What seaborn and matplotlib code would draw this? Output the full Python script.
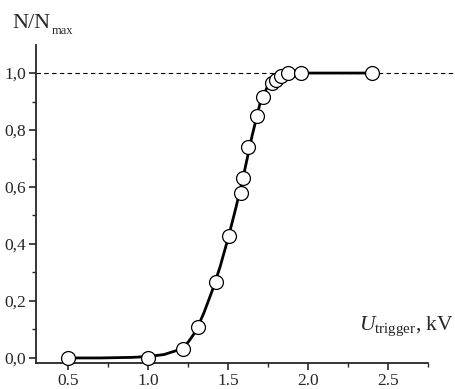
import numpy as np
import pandas as pd
import seaborn as sns
import matplotlib.pyplot as plt
from matplotlib.ticker import MultipleLocator, FuncFormatter

# measured points
u_points = [0.5, 1.0, 1.22, 1.31, 1.425, 1.505, 1.58, 1.59, 1.625, 1.68, 1.715,
            1.773, 1.798, 1.829, 1.877, 1.956, 2.4]
n_points = [0.0, 0.0, 0.032, 0.11, 0.268, 0.428, 0.578, 0.63, 0.74, 0.848, 0.917,
            0.966, 0.976, 0.988, 0.999, 1.0, 1.0]

# smooth fitted curve
u_curve = [0.5, 0.7, 0.9, 1.0, 1.1, 1.2, 1.25, 1.3, 1.35, 1.4, 1.45, 1.5, 1.55,
           1.6, 1.65, 1.7, 1.75, 1.8, 1.85, 1.9, 2.0, 2.4]
n_curve = [0.0, 0.0, 0.002, 0.005, 0.012, 0.03, 0.055, 0.095, 0.16, 0.235, 0.32,
           0.42, 0.53, 0.65, 0.78, 0.895, 0.958, 0.985, 0.997, 1.0, 1.0, 1.0]

pts = pd.DataFrame({'U': u_points, 'N': n_points})
curve = pd.DataFrame({'U': u_curve, 'N': n_curve})

sns.set_style('ticks')
plt.rcParams['font.family'] = ['Liberation Serif', 'DejaVu Serif']
plt.rcParams['mathtext.fontset'] = 'custom'
plt.rcParams['mathtext.rm'] = 'Liberation Serif'
plt.rcParams['mathtext.it'] = 'Liberation Serif:italic'

fig = plt.figure(figsize=(4.56, 3.89), dpi=100)
ax = fig.add_axes([0.079, 0.067, 0.86, 0.817])

# dashed reference at N/Nmax = 1
ax.axhline(1.0, xmin=0, xmax=1.072, color='black', lw=0.8, ls=(0, (4, 3)),
           clip_on=False, zorder=1)

sns.lineplot(data=curve, x='U', y='N', ax=ax, color='black', lw=2.0, zorder=2)
sns.scatterplot(data=pts, x='U', y='N', ax=ax, s=100, color='white',
                edgecolor='black', linewidth=0.9, zorder=3, clip_on=False)

ax.set_xlim(0.3, 2.75)
ax.set_ylim(-0.0175, 1.098)
ax.set_xlabel('')
ax.set_ylabel('')

ax.xaxis.set_major_locator(MultipleLocator(0.5))
ax.xaxis.set_minor_locator(MultipleLocator(0.25))
ax.yaxis.set_major_locator(MultipleLocator(0.2))
ax.yaxis.set_minor_locator(MultipleLocator(0.1))
ax.xaxis.set_major_formatter(FuncFormatter(lambda v, p: f'{v:.1f}'))
ax.yaxis.set_major_formatter(FuncFormatter(lambda v, p: f'{v:.1f}'.replace('.', ',')))

ax.tick_params(which='major', length=5, width=1.2, labelsize=12.5, pad=2)
ax.tick_params(which='minor', length=3, width=1.0)
sns.despine(ax=ax)
for s in ['left', 'bottom']:
    ax.spines[s].set_linewidth(1.3)

fig.text(0.028, 0.928, 'N/N', fontsize=16, ha='left', va='baseline')
fig.text(0.114, 0.912, 'max', fontsize=9, ha='left', va='baseline')
fig.text(0.995, 0.152, r'$\mathit{U}_{\mathrm{trigger}}$, kV', fontsize=15.5,
         ha='right', va='baseline')

fig.savefig('out.png', dpi=100)
